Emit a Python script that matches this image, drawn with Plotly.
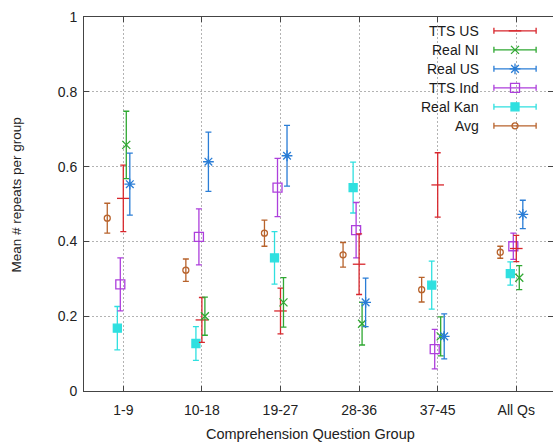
import plotly.graph_objects as go

# Question groups on the x axis
groups = ["1-9", "10-18", "19-27", "28-36", "37-45", "All Qs"]

# Mean repeats per group and half-width of the error bars, per series
series_names = ["TTS US", "Real NI", "Real US", "TTS Ind", "Real Kan", "Avg"]

tts_us_mean = [0.515, 0.190, 0.214, 0.339, 0.551, 0.381]
tts_us_err = [0.089, 0.060, 0.061, 0.081, 0.086, 0.035]

real_ni_mean = [0.658, 0.200, 0.237, 0.180, 0.146, 0.303]
real_ni_err = [0.090, 0.051, 0.066, 0.057, 0.052, 0.032]

real_us_mean = [0.553, 0.613, 0.629, 0.237, 0.146, 0.472]
real_us_err = [0.083, 0.079, 0.081, 0.065, 0.060, 0.038]

tts_ind_mean = [0.285, 0.412, 0.544, 0.430, 0.112, 0.387]
tts_ind_err = [0.071, 0.075, 0.078, 0.074, 0.053, 0.035]

real_kan_mean = [0.168, 0.127, 0.356, 0.544, 0.283, 0.314]
real_kan_err = [0.058, 0.045, 0.070, 0.068, 0.064, 0.031]

avg_mean = [0.462, 0.323, 0.422, 0.364, 0.271, 0.371]
avg_err = [0.040, 0.030, 0.035, 0.033, 0.033, 0.016]

y_ticks = [0, 0.2, 0.4, 0.6, 0.8, 1]
y_tick_labels = ["0", "0.2", "0.4", "0.6", "0.8", "1"]

# Per-series styling: colour, marker, marker size, horizontal offset within a group
styles = {
    "TTS US":   dict(color="#d8262c", symbol="line-ew", size=9, offset=0.0,
                     means=tts_us_mean, errs=tts_us_err),
    "Real NI":  dict(color="#2fa832", symbol="x-thin", size=8, offset=0.038,
                     means=real_ni_mean, errs=real_ni_err),
    "Real US":  dict(color="#2a7dd6", symbol="asterisk", size=9, offset=0.083,
                     means=real_us_mean, errs=real_us_err),
    "TTS Ind":  dict(color="#ad3fdc", symbol="square-open", size=9, offset=-0.038,
                     means=tts_ind_mean, errs=tts_ind_err),
    "Real Kan": dict(color="#2fe0e0", symbol="square", size=8, offset=-0.076,
                     means=real_kan_mean, errs=real_kan_err),
    "Avg":      dict(color="#b8632c", symbol="circle-open", size=6, offset=-0.204,
                     means=avg_mean, errs=avg_err),
}

fig = go.Figure()

positions = list(range(1, len(groups) + 1))

draw_order = ["Avg", "Real Kan", "TTS Ind", "TTS US", "Real NI", "Real US"]
for name in draw_order:
    s = styles[name]
    xs = [p + s["offset"] for p in positions]
    fig.add_trace(go.Scatter(
        x=xs, y=s["means"], mode="markers", name=name, showlegend=False,
        marker=dict(symbol=s["symbol"], size=s["size"], color=s["color"],
                    line=dict(color=s["color"], width=1.3)),
        error_y=dict(type="data", array=s["errs"], visible=True,
                     color=s["color"], thickness=1.3, width=3),
    ))

# Legend keys drawn on an overlay axis spanning the plot area (0..1 both ways)
key_center = 0.919
key_half = 0.045
row_y0 = 0.963
row_step = 0.0508
text_font = dict(family="Liberation Sans, Arial, sans-serif", size=14, color="#1a1a1a")
for i, name in enumerate(series_names):
    s = styles[name]
    yy = row_y0 - i * row_step
    fig.add_trace(go.Scatter(
        x=[key_center], y=[yy], mode="markers", showlegend=False,
        xaxis="x2", yaxis="y2",
        marker=dict(symbol=s["symbol"], size=s["size"], color=s["color"],
                    line=dict(color=s["color"], width=1.3)),
        error_x=dict(type="data", array=[key_half], visible=True,
                     color=s["color"], thickness=1.3, width=3),
    ))
    fig.add_annotation(
        x=0.846, y=yy, xref="x2", yref="y2", text=name, showarrow=False,
        xanchor="right", yanchor="middle", font=text_font,
    )

# Axis titles placed as paper-anchored annotations
fig.add_annotation(
    x=-0.143, y=0.525, xref="paper", yref="paper", text="Mean # repeats per group",
    textangle=-90, showarrow=False, xanchor="center", yanchor="middle",
    font=dict(family="Liberation Sans, Arial, sans-serif", size=13.5, color="#222222"),
)
fig.add_annotation(
    x=0.484, y=-0.116, xref="paper", yref="paper", text="Comprehension Question Group",
    showarrow=False, xanchor="center", yanchor="middle",
    font=dict(family="Liberation Sans, Arial, sans-serif", size=14.5, color="#222222"),
)

axis_font = dict(family="Liberation Sans, Arial, sans-serif", size=14, color="#222222")

fig.update_layout(
    width=553, height=443,
    margin=dict(l=84, r=0, t=17, b=52),
    paper_bgcolor="white", plot_bgcolor="white",
    showlegend=False,
    font=axis_font,
    xaxis=dict(
        range=[0.5, 6.467], tickmode="array", tickvals=positions, ticktext=groups,
        ticks="inside", ticklen=5, tickcolor="#444", showline=True, linecolor="#444",
        linewidth=1, mirror="ticks", showgrid=True, gridcolor="#b3b3b3",
        griddash="2px,2px", gridwidth=1, zeroline=False, tickfont=axis_font,
        ticklabelstandoff=6,
    ),
    yaxis=dict(
        range=[0, 1], tickmode="array", tickvals=y_ticks, ticktext=y_tick_labels,
        ticks="inside", ticklen=5, tickcolor="#444", showline=True, linecolor="#444",
        linewidth=1, mirror="ticks", showgrid=True, gridcolor="#b3b3b3",
        griddash="2px,2px", gridwidth=1, zeroline=False, tickfont=axis_font,
        ticklabelstandoff=3,
    ),
    xaxis2=dict(range=[0, 1], overlaying="x", visible=False, fixedrange=True),
    yaxis2=dict(range=[0, 1], overlaying="y", visible=False, fixedrange=True),
)

fig.write_html("out.html")
